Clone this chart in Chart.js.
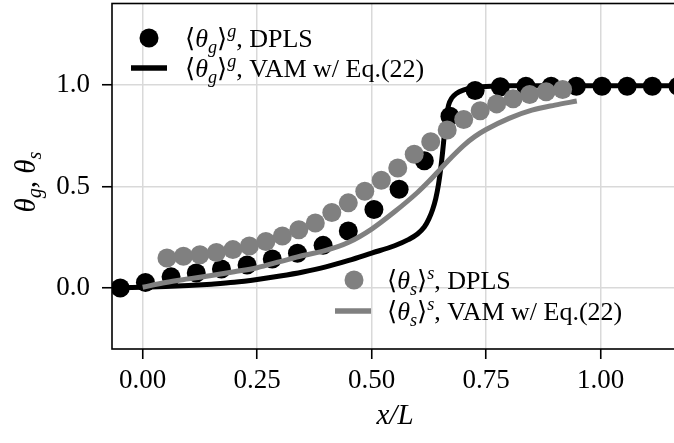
<!DOCTYPE html>
<html>
<head>
<meta charset="utf-8">
<script src="https://cdn.jsdelivr.net/npm/chart.js@4"></script>
<style>
  body { margin: 0; background: #fff; overflow: hidden; }
  /* chart area top is kept ~6px lower by Chart.js layout, so lift the canvas */
  #myChart { display: block; margin-top: -6px; }
</style>
</head>
<body>
<canvas id="myChart" width="690" height="449"></canvas>
<script>
// DPLS gas (black dots)
const gasX = [-0.049, 0.006, 0.062, 0.117, 0.172, 0.228, 0.283, 0.338, 0.394, 0.449, 0.505, 0.560,
  0.615, 0.671, 0.726, 0.781, 0.837, 0.892, 0.947, 1.003, 1.058, 1.113, 1.169];
const gasY = [0.0, 0.027, 0.055, 0.074, 0.094, 0.113, 0.143, 0.171, 0.21, 0.281, 0.386, 0.486,
  0.626, 0.845, 0.972, 0.99, 0.993, 0.993, 0.993, 0.993, 0.993, 0.993, 0.993];

// DPLS solid (gray dots)
const solidX = [0.053, 0.089, 0.125, 0.161, 0.197, 0.233, 0.269, 0.305, 0.341, 0.377, 0.413, 0.449,
  0.485, 0.521, 0.557, 0.593, 0.629, 0.665, 0.701, 0.737, 0.773, 0.809, 0.845, 0.881, 0.917];
const solidY = [0.148, 0.156, 0.164, 0.175, 0.189, 0.207, 0.229, 0.256, 0.287, 0.32, 0.372, 0.419,
  0.476, 0.53, 0.591, 0.658, 0.72, 0.778, 0.829, 0.872, 0.906, 0.931, 0.952, 0.966, 0.977];

// VAM gas curve (black line)
const vamGasX = [-0.067, 0.0, 0.05, 0.1, 0.15, 0.2, 0.25, 0.3, 0.35, 0.4, 0.45, 0.5, 0.55, 0.58,
  0.6, 0.615, 0.625, 0.633, 0.64, 0.646, 0.651, 0.655, 0.659, 0.663, 0.668, 0.675, 0.685, 0.7,
  0.72, 0.75, 0.8, 1.17];
const vamGasY = [0.0, 0.004, 0.007, 0.012, 0.019, 0.028, 0.042, 0.059, 0.079, 0.104, 0.136, 0.172,
  0.208, 0.238, 0.266, 0.3, 0.34, 0.385, 0.44, 0.51, 0.59, 0.67, 0.76, 0.84, 0.9, 0.935, 0.957,
  0.974, 0.985, 0.992, 0.995, 0.995];

// VAM solid curve (gray line)
const vamSolidX = [0.0, 0.05, 0.1, 0.15, 0.2, 0.25, 0.3, 0.35, 0.4, 0.45, 0.5, 0.55, 0.6, 0.625,
  0.65, 0.675, 0.7, 0.725, 0.75, 0.8, 0.85, 0.9, 0.948];
const vamSolidY = [0.004, 0.027, 0.045, 0.062, 0.08, 0.1, 0.13, 0.16, 0.185, 0.225, 0.29, 0.375,
  0.47, 0.525, 0.585, 0.645, 0.7, 0.745, 0.78, 0.835, 0.875, 0.9, 0.92];

const xTicks = [0, 0.25, 0.5, 0.75, 1.0];
const yTicks = [0, 0.5, 1.0];

const FONT = "'Liberation Serif', 'DejaVu Serif', serif";
const GRAY = '#808080';
const OFF = 6; // canvas lift

const pts = (xs, ys) => xs.map((x, i) => ({ x: x, y: ys[i] }));

// draw text with sub / superscripts; style: 0 normal, 1 italic, 2 italic sub, 3 italic sup
function richText(ctx, parts, x, y, size) {
  let cx = x;
  parts.forEach(([t, s]) => {
    let fs = size, dy = 0, it = s > 0;
    if (s === 2) { fs = size * 0.7; dy = size * 0.22; }
    if (s === 3) { fs = size * 0.7; dy = -size * 0.38; }
    ctx.font = `${it ? 'italic ' : ''}${fs}px ${FONT}`;
    ctx.fillText(t, cx, y + dy);
    cx += ctx.measureText(t).width;
  });
  return cx - x;
}
function richWidth(ctx, parts, size) {
  let w = 0;
  parts.forEach(([t, s]) => {
    let fs = (s === 2 || s === 3) ? size * 0.7 : size;
    ctx.font = `${s > 0 ? 'italic ' : ''}${fs}px ${FONT}`;
    w += ctx.measureText(t).width;
  });
  return w;
}

const legendItems = [
  { kind: 'dot', color: 'black', mx: 149, my: 38, tx: 185, ty: 47,
    parts: [['⟨', 0], ['θ', 1], ['g', 2], ['⟩', 0], ['g', 3], [', DPLS', 0]] },
  { kind: 'line', color: 'black', mx: 149, my: 68, tx: 185, ty: 77,
    parts: [['⟨', 0], ['θ', 1], ['g', 2], ['⟩', 0], ['g', 3], [', VAM w/ Eq.(22)', 0]] },
  { kind: 'dot', color: GRAY, mx: 354, my: 280, tx: 387, ty: 289,
    parts: [['⟨', 0], ['θ', 1], ['s', 2], ['⟩', 0], ['s', 3], [', DPLS', 0]] },
  { kind: 'line', color: GRAY, mx: 353, my: 311, tx: 387, ty: 320,
    parts: [['⟨', 0], ['θ', 1], ['s', 2], ['⟩', 0], ['s', 3], [', VAM w/ Eq.(22)', 0]] },
];

const extras = {
  id: 'extras',
  afterDatasetsDraw(chart) {
    const ctx = chart.ctx;
    const a = chart.chartArea;
    ctx.save();
    // frame
    ctx.strokeStyle = 'black';
    ctx.lineWidth = 1.6;
    ctx.strokeRect(a.left, a.top, a.right - a.left, a.bottom - a.top);
    // legends
    ctx.textBaseline = 'alphabetic';
    ctx.textAlign = 'left';
    legendItems.forEach(it => {
      ctx.fillStyle = it.color;
      ctx.strokeStyle = it.color;
      if (it.kind === 'dot') {
        ctx.beginPath();
        ctx.arc(it.mx, it.my + OFF, 9.5, 0, Math.PI * 2);
        ctx.fill();
      } else {
        ctx.lineWidth = 5.5;
        ctx.beginPath();
        ctx.moveTo(it.mx - 18, it.my + OFF);
        ctx.lineTo(it.mx + 18, it.my + OFF);
        ctx.stroke();
      }
      ctx.fillStyle = 'black';
      richText(ctx, it.parts, it.tx, it.ty + OFF, 26);
    });
    // y axis title
    const yParts = [['θ', 1], ['g', 2], [', ', 0], ['θ', 1], ['s', 2]];
    ctx.translate(35, 182 + OFF);
    ctx.rotate(-Math.PI / 2);
    const w = richWidth(ctx, yParts, 29);
    richText(ctx, yParts, -w / 2, 0, 29);
    ctx.restore();
  }
};

new Chart(document.getElementById('myChart'), {
  type: 'scatter',
  data: {
    datasets: [
      { label: 'gas DPLS', data: pts(gasX, gasY), order: 4, clip: 0,
        backgroundColor: 'black', borderColor: 'black', pointRadius: 9.5, pointBorderWidth: 0,
        showLine: false },
      { label: 'gas VAM', data: pts(vamGasX, vamGasY), order: 3, clip: 0,
        borderColor: 'black', borderWidth: 5, pointRadius: 0, showLine: true,
        cubicInterpolationMode: 'monotone' },
      { label: 'solid DPLS', data: pts(solidX, solidY), order: 2, clip: 0,
        backgroundColor: GRAY, borderColor: GRAY, pointRadius: 9.5, pointBorderWidth: 0,
        showLine: false },
      { label: 'solid VAM', data: pts(vamSolidX, vamSolidY), order: 1, clip: 0,
        borderColor: GRAY, borderWidth: 5, pointRadius: 0, showLine: true,
        cubicInterpolationMode: 'monotone' },
    ],
  },
  options: {
    responsive: false,
    devicePixelRatio: 1,
    animation: false,
    layout: { padding: { top: 4, right: 12, left: 0, bottom: 0 } },
    plugins: { legend: { display: false }, tooltip: { enabled: false } },
    scales: {
      x: {
        type: 'linear', min: -0.067, max: 1.169,
        afterFit: s => { s.height = 94; s.paddingLeft = 0; s.paddingRight = 0; },
        afterBuildTicks: s => { s.ticks = xTicks.map(v => ({ value: v })); },
        ticks: { callback: v => v.toFixed(2), color: 'black', padding: 6,
          font: { family: FONT, size: 27 }, maxRotation: 0 },
        grid: { color: '#d9d9d9', lineWidth: 1.5, tickColor: 'black', tickWidth: 1.6, tickLength: 10 },
        border: { display: false },
        title: { display: true, text: 'x/L', color: 'black',
          font: { family: FONT, size: 29, style: 'italic' }, padding: { top: 0, bottom: 9 } },
      },
      y: {
        type: 'linear', min: -0.3, max: 1.4,
        afterFit: s => { s.width = 112; s.paddingTop = 0; s.paddingBottom = 0; },
        afterBuildTicks: s => { s.ticks = yTicks.map(v => ({ value: v })); },
        ticks: { callback: v => v.toFixed(1), color: 'black', padding: 12,
          font: { family: FONT, size: 27 } },
        grid: { color: '#d9d9d9', lineWidth: 1.5, tickColor: 'black', tickWidth: 1.6, tickLength: 10 },
        border: { display: false },
      },
    },
  },
  plugins: [extras],
});
</script>
</body>
</html>
